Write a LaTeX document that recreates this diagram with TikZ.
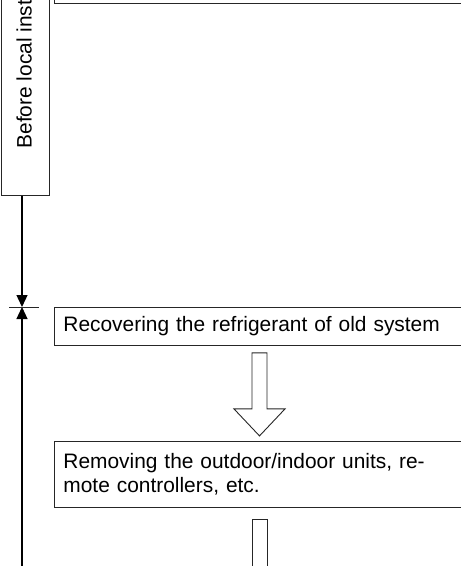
\documentclass[tikz,border=0pt]{standalone}
\usepackage{fontspec}
\setmainfont{Liberation Sans}
\usetikzlibrary{arrows.meta}
\usetikzlibrary{calc}

\tikzset{
  boxline/.style={draw=black!85, line width=.9pt},
  stepbox/.style={boxline, rectangle, anchor=north west, inner xsep=9pt, inner ysep=0pt, align=left, font=\fontsize{20.9}{24}\selectfont},
  hollow/.style={boxline, fill=white},
  dimline/.style={line width=1.3pt, -{Triangle[length=12pt,width=11pt]}},
}

\begin{document}
\begin{tikzpicture}[x=1pt,y=-1pt]
\useasboundingbox (0,0) rectangle (461,566);
\clip (0,0) rectangle (461,566);

% phase column
\node[boxline, minimum width=48pt, minimum height=230pt, anchor=south west, inner sep=0] (phasebox) at (0.5,196) {};
\node[rotate=90, anchor=base west, font=\fontsize{20.9}{24}\selectfont] (phase) at (31.5,152) {Before local inst};

% previous step (cut off)
\node[boxline, minimum width=430pt, minimum height=60pt, anchor=south west, inner sep=0] (prev) at (54,3.5) {};

% steps
\node[stepbox, minimum height=38pt, text width=400pt] (recover) at (54,307) {Recovering the refrigerant of old system};
\node[stepbox, minimum height=66pt, text width=400pt] (remove) at (54,441) {Removing the outdoor/indoor units, re-\\mote controllers, etc.};

\draw[hollow] ($(recover.south west)+(198,7)$) -- ++(15,0) -- ++(0,56) -- ++(18,0) -- ++(-25.5,27) -- ++(-25.5,-27) -- ++(18,0) -- cycle;
\draw[hollow] ($(remove.south west)+(198,12)$) -- ++(15,0) -- ++(0,60) -- ++(-15,0) -- cycle;

% phase boundary
\coordinate (tick) at (22,307);
\coordinate (bottom) at (22,580);
\draw[dimline] (tick |- phasebox.south) -- (tick);
\draw[dimline] (bottom) -- (tick);
\draw[boxline] ($(tick)+(-13,0)$) -- ($(tick)+(17,0)$);
\end{tikzpicture}
\end{document}
